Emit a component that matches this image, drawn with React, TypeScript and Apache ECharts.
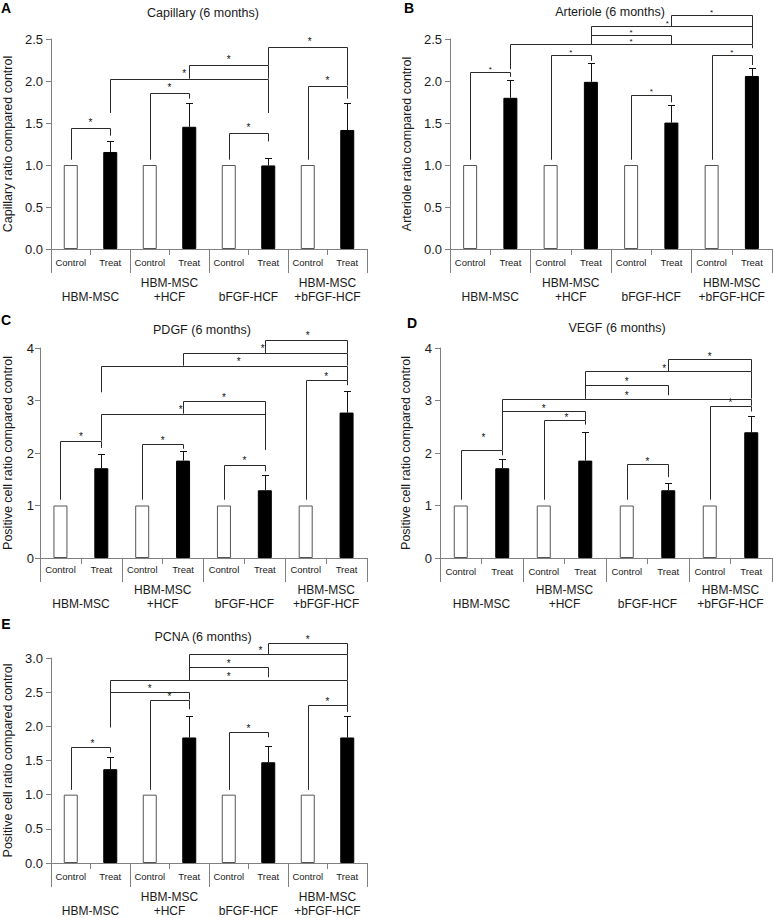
import React, { useEffect, useRef } from 'react';
import * as echarts from 'echarts';

// ---------- data ----------
const categories = ['Control', 'Treat', 'Control', 'Treat', 'Control', 'Treat', 'Control', 'Treat'];
const groups = ['HBM-MSC', 'HBM-MSC\n+HCF', 'bFGF-HCF', 'HBM-MSC\n+bFGF-HCF'];

const panelTitles = ['Capillary (6 months)', 'Arteriole (6 months)', 'PDGF (6 months)', 'VEGF (6 months)', 'PCNA (6 months)'];
const panelLetters = ['A', 'B', 'C', 'D', 'E'];
const yNames = [
  'Capillary ratio compared control',
  'Arteriole ratio compared control',
  'Positive cell ratio compared control',
  'Positive cell ratio compared control',
  'Positive cell ratio compared control',
];
const yMaxes = [2.5, 2.5, 4, 4, 3];
const yIntervals = [0.5, 0.5, 1, 1, 0.5];
const yDecimals = [1, 1, 0, 0, 1];

// control (always 1.0), treat means, treat upper error
const controlA = [1, 1, 1, 1];
const treatA = [1.155, 1.455, 0.995, 1.417];
const errA = [1.28, 1.74, 1.08, 1.738];

const controlB = [1, 1, 1, 1];
const treatB = [1.8, 1.99, 1.505, 2.06];
const errB = [2.01, 2.21, 1.714, 2.16];

const controlC = [1, 1, 1, 1];
const treatC = [1.71, 1.855, 1.29, 2.77];
const errC = [1.99, 2.04, 1.58, 3.19];

const controlD = [1, 1, 1, 1];
const treatD = [1.71, 1.855, 1.29, 2.395];
const errD = [1.886, 2.406, 1.43, 2.705];

const controlE = [1, 1, 1, 1];
const treatE = [1.373, 1.837, 1.474, 1.837];
const errE = [1.55, 2.153, 1.718, 2.144];

// significance brackets: [fromCat, toCat, top, leftLegBottom, rightLegBottom, starCat, starY(-1 = default)]
const bracketsA = [
  [0, 1, 1.444, 1.063, 1.349, 0.5, -1],
  [2, 3, 1.853, 1.063, 1.79, 2.5, -1],
  [4, 5, 1.377, 1.063, 1.28, 4.5, -1],
  [6, 7, 1.944, 1.063, 1.79, 6.5, -1],
  [1, 5, 2.028, 1.619, 1.619, 2.87, -1],
  [3, 5, 2.19, 2.028, 2.028, 4, -1],
  [5, 7, 2.4, 2.19, 1.944, 6.05, -1],
];
const bracketsB = [
  [0, 1, 2.107, 1.063, 2.05, 0.5, -1],
  [2, 3, 2.306, 1.063, 2.24, 2.5, -1],
  [4, 5, 1.837, 1.063, 1.746, 4.5, -1],
  [6, 7, 2.306, 1.063, 2.19, 6.5, -1],
  [1, 7, 2.44, 2.14, 2.39, 4, -1],
  [3, 5, 2.544, 2.44, 2.44, 4, -1],
  [3, 7, 2.651, 2.44, 2.44, 4.9, -1],
  [5, 7, 2.78, 2.651, 2.44, 6, -1],
];
const bracketsC = [
  [0, 1, 2.235, 1.11, 2.095, 0.5, -1],
  [2, 3, 2.17, 1.11, 2.08, 2.5, -1],
  [4, 5, 1.778, 1.11, 1.65, 4.5, -1],
  [6, 7, 3.384, 1.11, 3.29, 6.5, -1],
  [1, 5, 2.749, 2.235, 2.063, 2.94, -1],
  [3, 5, 2.984, 2.749, 2.063, 4, -1],
  [1, 7, 3.663, 3.156, 3.384, 4.36, -1],
  [3, 7, 3.905, 3.663, 3.663, 4.95, -1],
  [5, 7, 4.159, 3.905, 3.905, 6.05, -1],
];
const bracketsD = [
  [0, 1, 2.063, 1.11, 1.956, 0.55, 2.32],
  [2, 3, 2.622, 1.11, 2.54, 2.55, -1],
  [4, 5, 1.79, 1.11, 1.54, 4.5, -1],
  [6, 7, 2.9, 1.11, 2.79, 6.5, -1],
  [1, 3, 2.794, 2.063, 2.622, 2, -1],
  [1, 7, 3.035, 2.063, 2.9, 4, -1],
  [3, 5, 3.3, 3.035, 3.1, 4, -1],
  [3, 7, 3.556, 3.035, 3.035, 4.9, -1],
  [5, 7, 3.79, 3.556, 3.556, 6, -1],
];
const bracketsE = [
  [0, 1, 1.699, 1.07, 1.617, 0.55, -1],
  [2, 3, 2.392, 1.07, 2.25, 2.5, -1],
  [4, 5, 1.923, 1.07, 1.84, 4.5, -1],
  [6, 7, 2.306, 1.07, 2.21, 6.5, -1],
  [1, 3, 2.498, 1.986, 2.392, 2, -1],
  [1, 7, 2.679, 1.986, 2.306, 4, -1],
  [3, 5, 2.861, 2.679, 2.718, 4, -1],
  [3, 7, 3.053, 2.679, 2.679, 4.8, -1],
  [5, 7, 3.22, 3.053, 3.053, 6, -1],
];

const controls = [controlA, controlB, controlC, controlD, controlE];
const treats = [treatA, treatB, treatC, treatD, treatE];
const errs = [errA, errB, errC, errD, errE];
const brackets = [bracketsA, bracketsB, bracketsC, bracketsD, bracketsE];

// ---------- layout ----------
const layouts = [
  { left: 44, top: 39, width: 323, height: 210, nameGap: 37, labelMargin: 8, groupMargin: 27, starGap: 7, starSize: 10, title: [203, 13], letter: [6, 8] },
  { left: 450, top: 39, width: 322, height: 210, nameGap: 37, labelMargin: 8, groupMargin: 27, starGap: 4.5, starSize: 8, title: [610, 12], letter: [409, 8] },
  { left: 33, top: 348, width: 334, height: 210, nameGap: 26, labelMargin: 6, groupMargin: 25, starGap: 5.5, starSize: 10, title: [202, 330], letter: [6, 320] },
  { left: 440, top: 348, width: 332, height: 210, nameGap: 28, labelMargin: 8, groupMargin: 25, starGap: 4.5, starSize: 10, title: [617, 328], letter: [412, 323] },
  { left: 44, top: 658, width: 323, height: 209, nameGap: 37, labelMargin: 8, groupMargin: 27, starGap: 5, starSize: 10, title: [203, 637], letter: [6, 624] },
];

const FONT = '"Liberation Sans", Arial, Helvetica, sans-serif';
const AXIS_COLOR = '#808080';
const TEXT_COLOR = '#1a1a1a';

function buildOption() {
  const grid: any[] = [];
  const xAxis: any[] = [];
  const yAxis: any[] = [];
  const series: any[] = [];
  const graphic: any[] = [];

  layouts.forEach((L, g) => {
    grid.push({ left: L.left, top: L.top, width: L.width, height: L.height, containLabel: false });
    xAxis.push({
      type: 'category',
      gridIndex: g,
      data: categories,
      position: 'bottom',
      axisLine: { show: true, lineStyle: { color: AXIS_COLOR, width: 1 } },
      axisTick: { show: true, length: 6, interval: 0, lineStyle: { color: AXIS_COLOR } },
      axisLabel: { interval: 0, fontSize: 9.5, fontFamily: FONT, color: TEXT_COLOR, margin: L.labelMargin },
      splitLine: { show: false },
    });
    xAxis.push({
      type: 'category',
      gridIndex: g,
      data: groups,
      position: 'bottom',
      axisLine: { show: false },
      axisTick: { show: true, length: 24, interval: 0, lineStyle: { color: AXIS_COLOR } },
      axisLabel: {
        interval: 0,
        fontSize: 12,
        lineHeight: 14,
        fontFamily: FONT,
        color: TEXT_COLOR,
        margin: L.groupMargin,
        formatter: (v: string) => (v.indexOf('\n') >= 0 ? v : '\n' + v),
      },
      splitLine: { show: false },
    });
    yAxis.push({
      type: 'value',
      gridIndex: g,
      min: 0,
      max: yMaxes[g],
      interval: yIntervals[g],
      name: yNames[g],
      nameLocation: 'middle',
      nameGap: L.nameGap,
      nameTextStyle: { fontSize: 12.5, fontFamily: FONT, color: TEXT_COLOR },
      axisLine: { show: true, lineStyle: { color: AXIS_COLOR, width: 1 } },
      axisTick: { show: true, length: 5, lineStyle: { color: AXIS_COLOR } },
      axisLabel: {
        fontSize: 13,
        fontFamily: FONT,
        color: TEXT_COLOR,
        margin: L.labelMargin,
        formatter: (v: number) => v.toFixed(yDecimals[g]),
      },
      splitLine: { show: false },
    });

    const barData: any[] = [];
    const errData: any[] = [];
    for (let i = 0; i < 4; i++) {
      barData.push({ value: controls[g][i], itemStyle: { color: '#ffffff', borderColor: '#555555', borderWidth: 1 } });
      barData.push({ value: treats[g][i], itemStyle: { color: '#000000', borderColor: '#000000', borderWidth: 1 } });
      errData.push([2 * i + 1, treats[g][i], errs[g][i]]);
    }

    series.push({
      type: 'bar',
      xAxisIndex: 2 * g,
      yAxisIndex: g,
      barWidth: 14,
      data: barData,
      z: 2,
    });

    series.push({
      type: 'custom',
      xAxisIndex: 2 * g,
      yAxisIndex: g,
      clip: false,
      z: 3,
      encode: { x: 0, y: 1 },
      data: errData,
      renderItem: (params: any, api: any) => {
        const x = api.value(0);
        const pv = api.coord([x, api.value(1)]);
        const pe = api.coord([x, api.value(2)]);
        const cx = Math.round(pv[0]) + 0.5;
        const ey = Math.round(pe[1]) + 0.5;
        return {
          type: 'group',
          children: [
            { type: 'line', shape: { x1: cx, y1: pv[1], x2: cx, y2: ey }, style: { stroke: '#111', lineWidth: 1 } },
            { type: 'line', shape: { x1: cx - 3.5, y1: ey, x2: cx + 3.5, y2: ey }, style: { stroke: '#111', lineWidth: 1 } },
          ],
        };
      },
    });

    const starGap = L.starGap;
    const starSize = L.starSize;
    series.push({
      type: 'custom',
      xAxisIndex: 2 * g,
      yAxisIndex: g,
      clip: false,
      z: 4,
      encode: { x: 0, y: 2 },
      data: brackets[g],
      renderItem: (params: any, api: any) => {
        const x1 = api.value(0);
        const x2 = api.value(1);
        const top = api.value(2);
        const lb = api.value(3);
        const rb = api.value(4);
        const sx = api.value(5);
        const sy = api.value(6);
        const pL = api.coord([x1, top]);
        const pR = api.coord([x2, top]);
        const pLb = api.coord([x1, lb]);
        const pRb = api.coord([x2, rb]);
        const c0 = api.coord([0, top]);
        const c1 = api.coord([1, top]);
        const step = c1[0] - c0[0];
        const starX = c0[0] + sx * step;
        const starY = sy >= 0 ? api.coord([0, sy])[1] + 1 : pL[1] - starGap + 1.5;
        const lx = Math.round(pL[0]) + 0.5;
        const rx = Math.round(pR[0]) + 0.5;
        const ty = Math.round(pL[1]) + 0.5;
        return {
          type: 'group',
          children: [
            {
              type: 'polyline',
              shape: { points: [[lx, pLb[1]], [lx, ty], [rx, ty], [rx, pRb[1]]] },
              style: { stroke: '#2a2a2a', lineWidth: 1, fill: null },
            },
            {
              type: 'text',
              x: starX,
              y: starY,
              style: {
                text: '*',
                fontSize: starSize,
                fontFamily: FONT,
                fill: '#111',
                align: 'center',
                verticalAlign: 'middle',
              },
            },
          ],
        };
      },
    });

    graphic.push({
      type: 'text',
      x: L.title[0],
      y: L.title[1],
      style: { text: panelTitles[g], fontSize: 12.5, fontFamily: FONT, fill: TEXT_COLOR, align: 'center', verticalAlign: 'middle' },
    });
    graphic.push({
      type: 'text',
      x: L.letter[0],
      y: L.letter[1],
      style: { text: panelLetters[g], fontSize: 14, fontWeight: 'bold', fontFamily: FONT, fill: '#000', align: 'center', verticalAlign: 'middle' },
    });
  });

  return {
    animation: false,
    backgroundColor: '#ffffff',
    grid,
    xAxis,
    yAxis,
    series,
    graphic,
  };
}

export default function App() {
  const ref = useRef<HTMLDivElement>(null);
  useEffect(() => {
    if (!ref.current) return;
    const chart = echarts.init(ref.current, null, { renderer: 'svg' });
    chart.setOption(buildOption() as any);
    return () => chart.dispose();
  }, []);
  return <div ref={ref} style={{ position: 'absolute', left: 0, top: 0, width: 773, height: 918, background: '#fff' }} />;
}
